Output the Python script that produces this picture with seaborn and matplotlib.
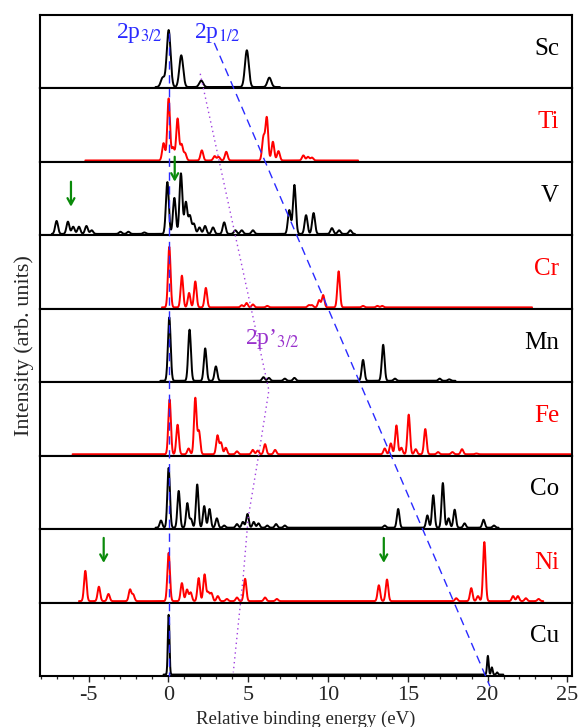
import numpy as np
import pandas as pd
import matplotlib
matplotlib.use("Agg")
import matplotlib.pyplot as plt
from matplotlib.ticker import MultipleLocator
import seaborn as sns

# ---------------- data ----------------
elements = ["Sc", "Ti", "V", "Cr", "Mn", "Fe", "Co", "Ni", "Cu"]
label_colors = ["black", "red", "black", "red", "black", "red", "black", "red", "black"]

# stick spectra: peak positions (eV) and heights (fraction of panel)
sc_pos = [-0.35, 0.02, 0.81, 2.06, 4.92, 6.33]
sc_h = [0.13, 0.79, 0.44, 0.09, 0.51, 0.13]

ti_pos = [-0.3, 0.02, 0.3, 0.58, 0.83, 1.05, 2.1, 2.9, 3.15, 3.63, 5.96, 6.17, 6.55, 6.9, 8.46, 8.75, 9.0]
ti_h = [0.24, 0.86, 0.18, 0.58, 0.22, 0.10, 0.14, 0.06, 0.05, 0.12, 0.32, 0.59, 0.26, 0.13, 0.07, 0.05, 0.04]

v_pos = [-7.0, -6.29, -5.96, -5.6, -5.13, -4.8, -3.0, -2.5, -1.5, -0.06, 0.38, 0.79, 1.1, 1.35, 1.6, 1.95,
         2.3, 2.8, 3.5, 4.2, 4.6, 5.3, 7.58, 7.9, 8.63, 9.1, 10.25, 10.7, 11.4]
v_h = [0.18, 0.17, 0.10, 0.10, 0.11, 0.05, 0.03, 0.03, 0.02, 0.72, 0.50, 0.84, 0.44, 0.25, 0.14, 0.09,
       0.11, 0.09, 0.16, 0.05, 0.05, 0.05, 0.33, 0.68, 0.26, 0.29, 0.08, 0.05, 0.05]

cr_pos = [0.06, 0.85, 1.3, 1.69, 2.35, 4.6, 4.9, 5.3, 6.2, 8.8, 9.0, 9.45, 9.7, 10.67, 12.2, 13.1, 13.4]
cr_h = [0.84, 0.44, 0.20, 0.36, 0.27, 0.03, 0.06, 0.04, 0.02, 0.03, 0.03, 0.10, 0.17, 0.50, 0.02, 0.02, 0.02]

mn_pos = [0.06, 1.33, 2.31, 2.98, 5.96, 6.3, 7.3, 7.9, 12.2, 13.46, 14.2, 17.0, 17.6]
mn_h = [0.88, 0.71, 0.45, 0.20, 0.05, 0.04, 0.03, 0.04, 0.29, 0.50, 0.03, 0.03, 0.02]

fe_pos = [0.08, 0.58, 1.27, 1.69, 1.92, 3.08, 3.3, 3.6, 4.3, 5.29, 5.6, 6.06, 6.69, 13.56, 13.94, 14.29,
          14.6, 15.06, 15.5, 16.1, 16.9, 17.8, 18.4, 19.3]
fe_h = [0.76, 0.41, 0.08, 0.78, 0.32, 0.26, 0.16, 0.09, 0.04, 0.06, 0.05, 0.14, 0.06, 0.08, 0.15, 0.40,
        0.09, 0.55, 0.07, 0.35, 0.03, 0.03, 0.07, 0.01]

co_pos = [-0.46, 0.02, 0.65, 1.19, 1.42, 1.81, 2.25, 2.58, 3.04, 3.5, 4.3, 4.67, 4.96, 5.35, 5.65, 6.2,
          6.75, 7.3, 13.56, 14.4, 16.23, 16.6, 17.2, 17.56, 17.94, 18.56, 19.75, 20.4]
co_h = [0.10, 0.83, 0.51, 0.34, 0.12, 0.60, 0.30, 0.26, 0.13, 0.03, 0.05, 0.08, 0.19, 0.08, 0.06, 0.03,
        0.05, 0.03, 0.03, 0.26, 0.17, 0.45, 0.62, 0.13, 0.25, 0.06, 0.11, 0.03]

ni_pos = [-5.2, -4.35, -3.75, -2.4, -2.2, 0.02, 0.85, 1.17, 1.4, 1.9, 2.27, 2.5, 2.7, 3.1, 3.67, 4.3,
          4.81, 6.06, 6.8, 13.19, 13.7, 18.04, 18.98, 19.4, 19.8, 21.6, 21.9, 22.4, 23.2]
ni_h = [0.42, 0.20, 0.10, 0.16, 0.09, 0.67, 0.25, 0.16, 0.12, 0.32, 0.37, 0.12, 0.11, 0.07, 0.03, 0.05,
        0.31, 0.05, 0.03, 0.22, 0.30, 0.04, 0.18, 0.07, 0.82, 0.07, 0.07, 0.04, 0.03]

cu_pos = [0.02, 20.02, 20.27, 20.6]
cu_h = [0.83, 0.26, 0.10, 0.03]

peak_pos = [sc_pos, ti_pos, v_pos, cr_pos, mn_pos, fe_pos, co_pos, ni_pos, cu_pos]
peak_h = [sc_h, ti_h, v_h, cr_h, mn_h, fe_h, co_h, ni_h, cu_h]
broadening = [0.12, 0.085, 0.09, 0.08, 0.085, 0.08, 0.08, 0.08, 0.05]
energy_ranges = [(-0.8, 7.0), (-5.2, 11.9), (-7.3, 11.7), (-0.4, 22.8), (-0.5, 18.0),
                 (-6.0, 25.2), (-0.8, 20.7), (-5.6, 23.5), (-0.3, 21.0)]

# guide lines (eV, stacked-panel units: 0 = top of Sc, 9 = bottom of Cu)
line_2p32_e = [0.05, 0.05]
line_2p32_y = [0.245, 9.0]
line_2p12_e = [2.88, 20.15]
line_2p12_y = [0.38, 9.14]
line_2pp_e = [2.0, 6.3, 5.69, 5.0, 4.7, 4.07]
line_2pp_y = [0.80, 5.11, 5.95, 6.85, 7.63, 8.95]

arrow_e = [-6.1, 0.4, -4.05, 13.5]
arrow_y0 = [2.27, 1.93, 7.12, 7.12]
arrow_y1 = [2.61, 2.27, 7.46, 7.46]

# ---------------- build long table ----------------
frames = []
for el, pos, hh, sig, (e0, e1) in zip(elements, peak_pos, peak_h, broadening, energy_ranges):
    e = np.arange(e0, e1, 0.01)
    inten = np.zeros_like(e)
    for p, h in zip(pos, hh):
        inten += h * np.exp(-0.5 * ((e - p) / sig) ** 2)
    frames.append(pd.DataFrame({"energy": e, "intensity": inten, "element": el}))
df = pd.concat(frames, ignore_index=True)

# ---------------- style ----------------
sns.set_style("ticks")
plt.rcParams["font.family"] = ["Liberation Serif", "DejaVu Serif"]
plt.rcParams["mathtext.fontset"] = "stix"
plt.rcParams["axes.unicode_minus"] = False

W, H = 581, 727
fig = plt.figure(figsize=(W / 100, H / 100), dpi=100)
left, right, top, bottom = 40 / W, 572.3 / W, 1 - 15 / H, 1 - 676 / H
axes = fig.subplots(9, 1, sharex=True, gridspec_kw=dict(hspace=0))
fig.subplots_adjust(left=left, right=right, top=top, bottom=bottom)

xlim = (-8.04, 25.31)
for i, (ax, el, col) in enumerate(zip(axes, elements, label_colors)):
    sub = df[df["element"] == el]
    sns.lineplot(data=sub, x="energy", y="intensity", ax=ax, color=col, lw=1.4,
                 estimator=None, sort=False)
    ax.set_xlim(*xlim)
    ax.set_ylim(-0.02, 1.0)
    ax.set_yticks([])
    ax.set_ylabel("")
    ax.set_xlabel("")
    ax.xaxis.set_major_locator(MultipleLocator(5))
    ax.xaxis.set_minor_locator(MultipleLocator(1))
    ax.tick_params(axis="x", which="major", direction="out", length=4, width=1.0,
                   labelsize=16, pad=3, top=False, bottom=True)
    ax.tick_params(axis="x", which="minor", direction="out", length=2.5, width=0.9,
                   top=False, bottom=True)
    if i < 8:
        ax.tick_params(axis="x", which="both", labelbottom=False)
    for s in ax.spines.values():
        s.set_linewidth(1.5)
        s.set_color("black")
    ax.text(0.975, 0.54, el, transform=ax.transAxes, ha="right", va="center",
            fontsize=18, color=col)

# overlay for guide lines / annotations
ov = fig.add_axes([left, bottom, right - left, top - bottom], zorder=10)
ov.set_xlim(*xlim)
ov.set_ylim(9, 0)
ov.axis("off")
ov.patch.set_alpha(0)

ov.plot(line_2p32_e, line_2p32_y, color="#2a2aff", lw=1.0, ls=(0, (6, 4)), clip_on=False)
ov.plot(line_2p12_e, line_2p12_y, color="#2a2aff", lw=1.0, ls=(0, (6, 4)), clip_on=False)
ov.plot(line_2pp_e, line_2pp_y, color="#a040e0", lw=1.0, ls=(0, (1, 2.5)), clip_on=False)

ov.text(-3.25, 0.31, r"2p$_{\mathrm{3/2}}$", color="#2a2aff", fontsize=17, ha="left", va="baseline")
ov.text(1.63, 0.31, r"2p$_{\mathrm{1/2}}$", color="#2a2aff", fontsize=17, ha="left", va="baseline")
ov.text(4.8, 4.48, "2p\u2019$_{\\mathrm{3/2}}$", color="#9932cc", fontsize=17, ha="left", va="baseline")

for e, y0, y1 in zip(arrow_e, arrow_y0, arrow_y1):
    ov.annotate("", xy=(e, y1), xytext=(e, y0),
                arrowprops=dict(arrowstyle="->,head_length=0.45,head_width=0.25",
                                color="#0a8a0a", lw=1.6, shrinkA=0, shrinkB=0),
                annotation_clip=False)

fig.text(24 / W, 1 - 346 / H, "Intensity (arb. units)", rotation=90, ha="center", va="center",
         fontsize=16)
fig.text(306 / W, 1 - 724 / H, "Relative binding energy (eV)", ha="center", va="baseline",
         fontsize=13.5)

fig.savefig("out.png", dpi=100)
